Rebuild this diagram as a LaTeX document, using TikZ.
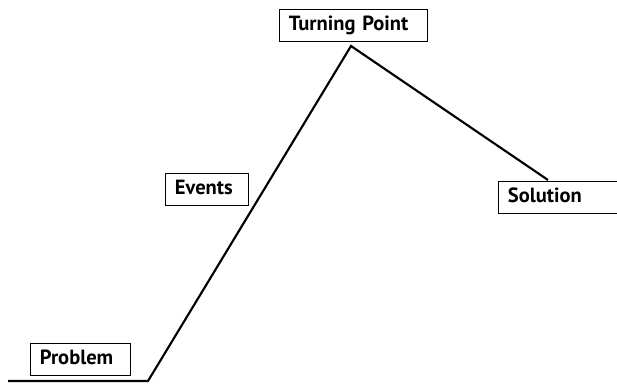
\documentclass[tikz,border=0pt]{standalone}
\usepackage{fontspec}
\setmainfont{PT Sans}
\usetikzlibrary{positioning}

\begin{document}
\begin{tikzpicture}[x=0.75pt,y=-0.75pt,
                    stage/.style={draw, line width=0.8pt, anchor=north west,
                      inner xsep=7pt, inner ysep=0pt, minimum height=24pt,
                      text width=#1, align=left, text height=0.7em, text depth=0pt,
                      font=\fontsize{15.4}{18}\selectfont\bfseries},
                    plot/.style={line width=1.6pt, line join=miter}]

\useasboundingbox (0,0) rectangle (617,384);

% the story line
\coordinate (start) at (8,381);
\coordinate (foot) at (148,381);
\coordinate (peak) at (351,46);
\coordinate (finish) at (548,180);

\draw[plot] (start) -- (foot) -- (peak) -- (finish);

% labels
\node[stage=61pt] (problem) at (30,343) {Problem};
\node[stage=48pt] (events) at (165,173) {Events};
\node[stage=97pt] (turning) at (279,9) {Turning Point};
\node[stage=82pt] (solution) at (498,181) {Solution};

\end{tikzpicture}
\end{document}
